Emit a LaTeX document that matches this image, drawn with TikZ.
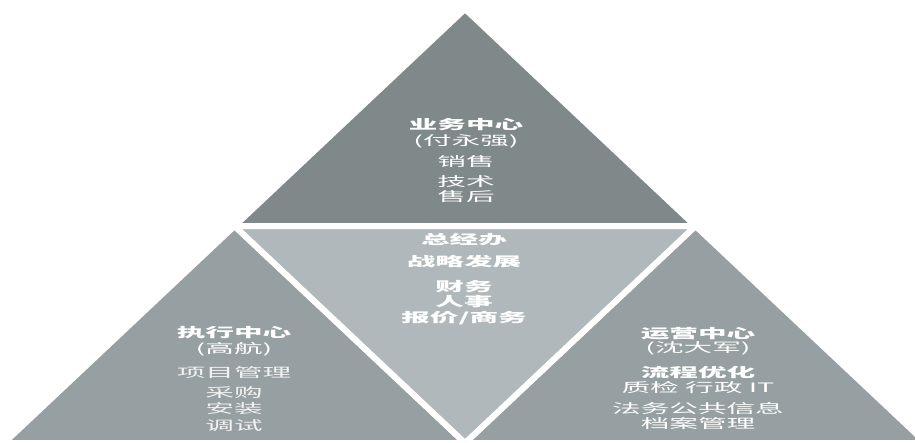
\documentclass[tikz,border=0pt]{standalone}
\usepackage{fontspec}
\newfontfamily\cjk[FakeStretch=2.2]{Noto Sans CJK SC}
\definecolor{topgray}{RGB}{128,137,138}
\definecolor{sidegray}{RGB}{150,159,161}
\definecolor{midgray}{RGB}{176,184,187}
\begin{document}
\begin{tikzpicture}[x=1pt,y=-1pt,
  piece/.style={draw=white,line width=6pt,line join=miter},
  label/.style={text=white,align=center,inner sep=0pt,font=\cjk\fontsize{13}{17}\selectfont},
  dim/.style={text=white!88!gray}]
\useasboundingbox (0,0) rectangle (915,442);
\clip (0,0) rectangle (915,442);
\coordinate (A) at (465,9);
\coordinate (BL) at (4,443);
\coordinate (BR) at (926,443);
\coordinate (ML) at (234.5,226);
\coordinate (MR) at (695.5,226);
\coordinate (MB) at (465,443);
\fill[white] (0,0) rectangle (915,442);
\filldraw[piece,fill=topgray] (A) -- (ML) -- (MR) -- cycle;
\filldraw[piece,fill=sidegray] (ML) -- (BL) -- (MB) -- cycle;
\filldraw[piece,fill=sidegray] (MR) -- (MB) -- (BR) -- cycle;
\filldraw[piece,fill=midgray] (ML) -- (MR) -- (MB) -- cycle;
\node[label] (top) at (466,160) {\bfseries 业务中心\\[-1pt](付永强)\\[4pt]销售\\[3pt]技术\\[-2pt]售后};
\node[label] (mid) at (464,279) {\bfseries 总经办\\[5pt]\bfseries 战略发展\\[8pt]\bfseries 财务\\[-2pt]\bfseries 人事\\[-1pt]\bfseries 报价/商务};
\node[label] (left) at (234,378.5) {\bfseries 执行中心\\[-1pt](高航)\\[7pt]{\color{white!90!gray}项目管理}\\[3pt]{\color{white!90!gray}采购}\\[-1pt]{\color{white!90!gray}安装}\\[0pt]{\color{white!90!gray}调试}};
\node[label] (right) at (698,378) {\bfseries 运营中心\\[-3pt](沈大军)\\[8pt]\bfseries 流程优化\\[-2pt]质检 行政 IT\\[4pt]法务公共信息\\[-2pt]档案管理};
\end{tikzpicture}
\end{document}
